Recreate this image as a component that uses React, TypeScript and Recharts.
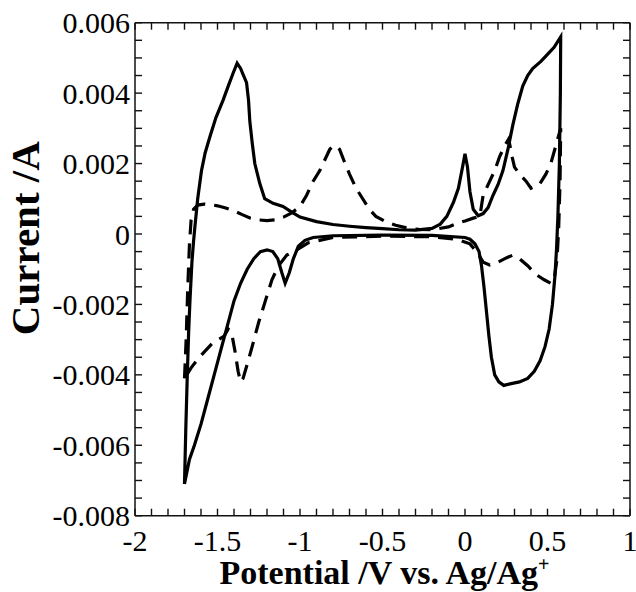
import React from 'react';
import { LineChart, Line, XAxis, YAxis, Label } from 'recharts';

// solid trace: potential (V) and current (A), in scan order
const solidPotential = [
    -1.7, -1.692, -1.683, -1.675, -1.667, -1.655, -1.645, -1.637, -1.62, -1.597, -1.575, -1.546, -1.51, -1.466,
    -1.435, -1.405, -1.381, -1.36, -1.342, -1.324, -1.312, -1.304, -1.29, -1.274, -1.244, -1.214, -1.163, -1.103,
    -1.05, -1.0, -0.9, -0.8, -0.7, -0.6, -0.5, -0.4, -0.3, -0.2, -0.15, -0.11, -0.07, -0.04, -0.015, 0.0, 0.015,
    0.03, 0.05, 0.08, 0.11, 0.14, 0.17, 0.2, 0.23, 0.26, 0.29, 0.32, 0.35, 0.38, 0.41, 0.46, 0.5, 0.54, 0.58,
    0.578, 0.572, 0.563, 0.555, 0.545, 0.53, 0.51, 0.485, 0.455, 0.42, 0.38, 0.33, 0.28, 0.235, 0.205, 0.18, 0.16,
    0.145, 0.13, 0.115, 0.1, 0.085, 0.06, 0.03, 0.0, -0.2, -0.5, -0.8, -0.92, -0.97, -1.01, -1.04, -1.065, -1.09,
    -1.11, -1.135, -1.165, -1.2, -1.24, -1.28, -1.32, -1.36, -1.4, -1.44, -1.48, -1.52, -1.56, -1.6, -1.64, -1.67,
    -1.7,
];
const solidCurrent = [
    -0.0071, -0.0055, -0.004, -0.0028, -0.0019, -0.0008, -0.0002, 0.0002, 0.001, 0.0018, 0.0023, 0.00276, 0.0033,
    0.0038, 0.0042, 0.00457, 0.00485, 0.0047, 0.0045, 0.0043, 0.0038, 0.0032, 0.0026, 0.002, 0.00144, 0.001,
    0.00087, 0.00078, 0.00062, 0.00048, 0.00035, 0.00027, 0.00022, 0.00018, 0.00015, 0.00012, 0.00011, 0.00016,
    0.00028, 0.0005, 0.0009, 0.0013, 0.0019, 0.00228, 0.0019, 0.0012, 0.0007, 0.00052, 0.00058, 0.00075, 0.0011,
    0.0014, 0.0018, 0.0024, 0.0031, 0.0037, 0.0042, 0.0045, 0.0047, 0.0049, 0.0051, 0.0053, 0.0056,
    0.004, 0.002, 0.0005, -0.0004, -0.0012, -0.002, -0.0027, -0.0032, -0.0036, -0.0039, -0.0041, -0.0042, -0.00425,
    -0.0043, -0.0042, -0.004, -0.0035, -0.0029, -0.0022, -0.0015, -0.0009, -0.0005, -0.00028, -0.00015, -0.0001,
    -0.00004, -0.00003, -0.00005, -0.0001, -0.00018, -0.00035, -0.0007, -0.0011, -0.0014, -0.0011, -0.0007,
    -0.0005, -0.00045, -0.0005, -0.0007, -0.001, -0.0014, -0.0019, -0.0026, -0.0033, -0.004, -0.0047, -0.0054,
    -0.006, -0.0064, -0.0071,
];

// dashed trace
const dashedPotential = [
    -1.7, -1.69, -1.68, -1.67, -1.66, -1.645, -1.62, -1.58, -1.54, -1.5, -1.45, -1.4, -1.35, -1.3, -1.25, -1.2,
    -1.15, -1.1, -1.05, -1.0, -0.96, -0.92, -0.88, -0.85, -0.82, -0.8, -0.78, -0.76, -0.735, -0.7, -0.66, -0.62,
    -0.58, -0.54, -0.48, -0.42, -0.35, -0.28, -0.2, -0.1, -0.05, 0.0, 0.05, 0.09, 0.1, 0.11, 0.15, 0.18, 0.21,
    0.24, 0.265, 0.285, 0.3, 0.33, 0.37, 0.4, 0.45, 0.49, 0.52, 0.55, 0.58,
    0.576, 0.568, 0.558, 0.54, 0.52, 0.48, 0.43, 0.38, 0.33, 0.29, 0.25, 0.2, 0.15, 0.11, 0.07, 0.03, -0.05, -0.2,
    -0.5, -0.8, -0.95, -1.02, -1.08, -1.13, -1.17, -1.21, -1.25, -1.29, -1.32, -1.345, -1.36, -1.375, -1.395,
    -1.415, -1.435, -1.46, -1.53, -1.61, -1.66, -1.7,
];
const dashedCurrent = [
    -0.0041, -0.003, -0.0015, -0.0003, 0.0004, 0.0007, 0.00082, 0.00085, 0.00083, 0.0008, 0.00074, 0.00066,
    0.00055, 0.00045, 0.0004, 0.00038, 0.0004, 0.00048, 0.0006, 0.00078, 0.0011, 0.0015, 0.0018, 0.0021, 0.0024,
    0.0025, 0.0025, 0.0024, 0.0021, 0.0017, 0.0013, 0.001, 0.0007, 0.0005, 0.00035, 0.00025, 0.00017, 0.00013,
    0.00012, 0.0002, 0.0003, 0.00037, 0.00045, 0.0005, 0.0008, 0.0011, 0.0015, 0.0018, 0.0022, 0.0025, 0.0027,
    0.0022, 0.0019, 0.0017, 0.0015, 0.0013, 0.0014, 0.0017, 0.002, 0.0025, 0.003,
    0.0015, 0.0002, -0.0007, -0.0013, -0.0014, -0.0013, -0.00115, -0.0009, -0.0007, -0.0006, -0.00068, -0.0008,
    -0.00088, -0.0008, -0.0005, -0.00028, -0.00015, -0.00008, -0.00006, -0.0001, -0.00025, -0.00045, -0.0006,
    -0.0009, -0.0013, -0.0019, -0.0025, -0.0032, -0.0037, -0.0041, -0.0042, -0.0039, -0.0033, -0.0028, -0.0027,
    -0.0029, -0.0031, -0.0035, -0.0038, -0.0041,
];

const xMajorTicks = [-2, -1.5, -1, -0.5, 0, 0.5, 1];
const yMajorTicks = [-0.008, -0.006, -0.004, -0.002, 0, 0.002, 0.004, 0.006];

const X_DOMAIN = [-2, 1];
const Y_DOMAIN = [-0.008, 0.006];

// minor ticks every 0.1 V and every 0.0005 A
const xTicks = Array.from({ length: 31 }, (_, k) => (k - 20) / 10);
const yTicks = Array.from({ length: 29 }, (_, k) => ((k - 16) * 5) / 10000);

const solidData = solidPotential.map((v, i) => ({ v, cur: solidCurrent[i] }));
const dashedData = dashedPotential.map((v, i) => ({ v, cur: dashedCurrent[i] }));

const FONT = '"Liberation Serif", "Times New Roman", serif';
const INK = '#111';
const TICK = -7; // negative size draws the tick marks inward

const isMajor = (v: number, list: number[]) => list.some((m) => Math.abs(m - v) < 1e-9);
const fmtX = (v: number) => (isMajor(v, xMajorTicks) ? String(v) : '');
const fmtY = (v: number) => (!isMajor(v, yMajorTicks) ? '' : Math.abs(v) < 1e-12 ? '0' : v.toFixed(3));
const blank = () => '';

const XTitle = (props: any) => {
    const { viewBox } = props;
    const cx = viewBox.x + viewBox.width / 2 + 2;
    return (
        <text x={cx} y={584} textAnchor="middle" fontFamily={FONT} fontSize={34} fontWeight="bold" fill="#000">
            Potential /V vs. Ag/Ag
            <tspan fontSize={20} dy={-13}>+</tspan>
        </text>
    );
};

const YTitle = (props: any) => {
    const { viewBox } = props;
    const cy = viewBox.y + viewBox.height / 2 - 31;
    return (
        <text
            x={25}
            y={cy}
            transform={`rotate(-90 25 ${cy})`}
            textAnchor="middle"
            dominantBaseline="central"
            fontFamily={FONT}
            fontSize={41}
            fontWeight="bold"
            fill="#000"
        >
            Current /A
        </text>
    );
};

const tickStyle = { fontFamily: FONT, fontSize: 30, fill: '#000' };
const lineStyle = { stroke: INK, strokeWidth: 1.4 };
const axisStyle = { stroke: INK, strokeWidth: 1.5 };

export default function App() {
    return (
        <div style={{ position: 'absolute', left: 0, top: 0, background: '#fff' }}>
            <LineChart width={636} height={592} margin={{ top: 21.7, right: 5, bottom: 16.3, left: 5 }}>
                <XAxis
                    xAxisId="b"
                    dataKey="v"
                    type="number"
                    domain={X_DOMAIN}
                    allowDataOverflow
                    ticks={xTicks}
                    interval={0}
                    height={60}
                    tickSize={TICK}
                    tickMargin={21}
                    tickLine={lineStyle}
                    tick={tickStyle}
                    tickFormatter={fmtX}
                    axisLine={axisStyle}
                >
                    <Label content={<XTitle />} />
                </XAxis>
                <XAxis
                    xAxisId="t"
                    orientation="top"
                    dataKey="v"
                    type="number"
                    domain={X_DOMAIN}
                    allowDataOverflow
                    ticks={xTicks}
                    interval={0}
                    height={1}
                    tickSize={TICK}
                    tickLine={lineStyle}
                    tickFormatter={blank}
                    axisLine={axisStyle}
                />
                <YAxis
                    yAxisId="l"
                    dataKey="cur"
                    type="number"
                    domain={Y_DOMAIN}
                    allowDataOverflow
                    ticks={yTicks}
                    interval={0}
                    width={130}
                    tickSize={TICK}
                    tickMargin={12}
                    tickLine={lineStyle}
                    tick={tickStyle}
                    tickFormatter={fmtY}
                    axisLine={axisStyle}
                >
                    <Label content={<YTitle />} />
                </YAxis>
                <YAxis
                    yAxisId="r"
                    orientation="right"
                    dataKey="cur"
                    type="number"
                    domain={Y_DOMAIN}
                    allowDataOverflow
                    ticks={yTicks}
                    interval={0}
                    width={1}
                    tickSize={TICK}
                    tickLine={lineStyle}
                    tickFormatter={blank}
                    axisLine={axisStyle}
                />
                <Line
                    xAxisId="b"
                    yAxisId="l"
                    data={dashedData}
                    dataKey="cur"
                    type="linear"
                    stroke="#000"
                    strokeWidth={3.2}
                    strokeDasharray="15 9"
                    dot={false}
                    activeDot={false}
                    isAnimationActive={false}
                />
                <Line
                    xAxisId="b"
                    yAxisId="l"
                    data={solidData}
                    dataKey="cur"
                    type="linear"
                    stroke="#000"
                    strokeWidth={3.2}
                    dot={false}
                    activeDot={false}
                    isAnimationActive={false}
                />
            </LineChart>
        </div>
    );
}
